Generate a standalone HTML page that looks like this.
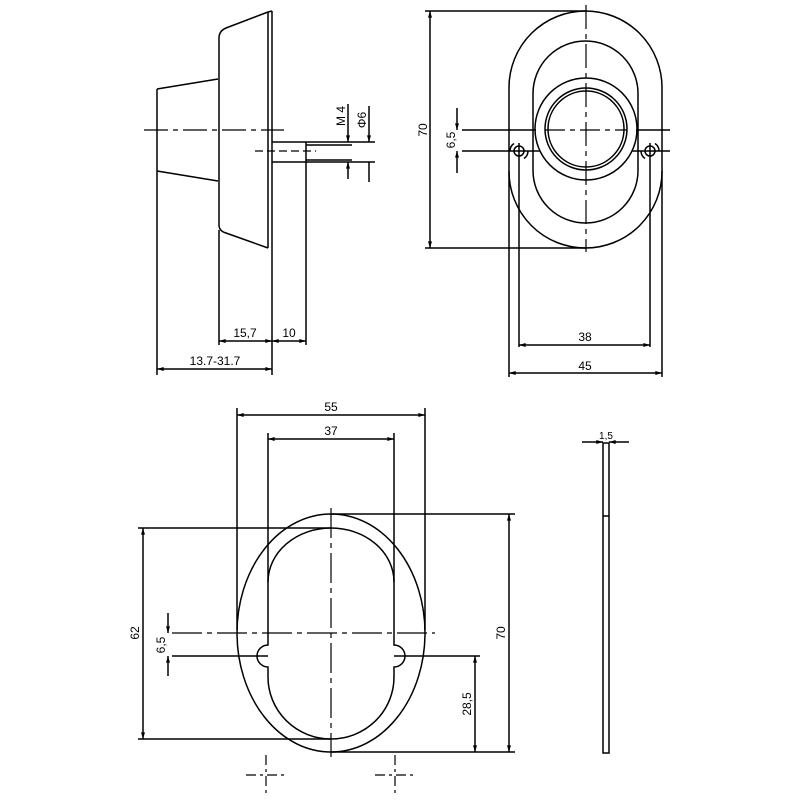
<!DOCTYPE html>
<html><head><meta charset="utf-8"><style>
html,body{margin:0;padding:0;background:#fff}
svg{display:block}
text{font-family:"Liberation Sans",sans-serif;font-size:12px;fill:#000}
</style></head><body>
<svg width="800" height="800" viewBox="0 0 800 800" xmlns="http://www.w3.org/2000/svg">
<defs>
<marker id="a" viewBox="0 0 10 6" refX="10" refY="3" markerWidth="9" markerHeight="4" orient="auto-start-reverse" markerUnits="userSpaceOnUse"><path d="M0,0L10,3L0,6z" fill="#000"/></marker>
</defs>
<g fill="none" stroke="#000" stroke-width="1.5">
<!-- SIDE VIEW -->
<path d="M272,11 L272,248 M268,12 L268,248 M268,12 L272,11"/>
<path d="M268,12 L226,28 Q219,31 219,38 L219,225 Q219,231 226,233 L268,248"/>
<path d="M157,89 L218,79 M157,171 L218,181"/>
<path d="M157,89 L157,375 M219,230 L219,345 M272,248 L272,375 M306,142 L306,345"/>
<path d="M272,142 L375,142 M272,162 L375,162 M306,145 L352,145 M306,160 L352,160"/>
<path d="M144,130 L284,130" stroke-dasharray="24,5,5,5" stroke-width="1.2"/>
<path d="M255,151 L316,151" stroke-dasharray="8,4" stroke-width="1.2"/>
<path d="M348,104 L348,142" marker-end="url(#a)"/>
<path d="M348,179 L348,162" marker-end="url(#a)"/>
<path d="M369,106 L369,142" marker-end="url(#a)"/>
<path d="M369,182 L369,162"/>
<path d="M219,341 L272,341" marker-start="url(#a)" marker-end="url(#a)"/>
<path d="M272,341 L306,341" marker-start="url(#a)" marker-end="url(#a)"/>
<path d="M157,369 L272,369" marker-start="url(#a)" marker-end="url(#a)"/>

<!-- FRONT VIEW -->
<path d="M509,87.5 A76.5,76.5 0 0 1 662,87.5 L662,171.5 A76.5,76.5 0 0 1 509,171.5 Z"/>
<path d="M533,93.5 A52.5,52.5 0 0 1 638,93.5 L638,170.5 A52.5,52.5 0 0 1 533,170.5 Z"/>
<circle cx="586" cy="129" r="51"/>
<circle cx="586" cy="129" r="41"/>
<circle cx="586" cy="129" r="38"/>
<path d="M462,130 L536,130 M636,130 L670,130 M462,151 L540,151 M632,151 L670,151"/>
<path d="M586,5 L586,252" stroke-dasharray="24,5,5,5" stroke-width="1.2"/>
<path d="M545,130 L627,130" stroke-dasharray="20,5,5,5" stroke-width="1.2"/>
<circle cx="519" cy="151" r="5"/><circle cx="650" cy="151" r="5"/>
<path d="M519,151 m-9,0 a9,9 0 0 1 4,-7.5 M519,151 m9,0 a9,9 0 0 1 -4,7.5 M650,151 m-9,0 a9,9 0 0 0 4,7.5 M650,151 m9,0 a9,9 0 0 0 -4,-7.5"/>
<path d="M519,143 L519,347 M650,143 L650,347 M509,171 L509,377 M662,171 L662,377"/>
<path d="M425,11 L586,11 M425,248 L586,248"/>
<path d="M430,11 L430,248" marker-start="url(#a)" marker-end="url(#a)"/>
<path d="M457,108 L457,130" marker-end="url(#a)"/>
<path d="M457,173 L457,151" marker-end="url(#a)"/>
<path d="M519,345 L650,345" marker-start="url(#a)" marker-end="url(#a)"/>
<path d="M509,373 L662,373" marker-start="url(#a)" marker-end="url(#a)"/>

<!-- BOTTOM VIEW -->
<ellipse cx="331" cy="633" rx="94" ry="119"/>
<path d="M268,582 A63,54 0 0 1 394,582 L394,645 A11,11 0 0 1 394,667 L394,677 A63,62 0 0 1 268,677 L268,667 A11,11 0 0 1 268,645 Z"/>
<path d="M237,408 L237,630 M425,408 L425,630 M268,433 L268,582 M394,433 L394,582"/>
<path d="M237,415 L425,415" marker-start="url(#a)" marker-end="url(#a)"/>
<path d="M268,439 L394,439" marker-start="url(#a)" marker-end="url(#a)"/>
<path d="M172,633 L435,633" stroke-dasharray="30,5,5,5" stroke-width="1.2"/>
<path d="M331,508 L331,757" stroke-dasharray="30,5,5,5" stroke-width="1.2"/>
<path d="M172,656 L268,656 M394,656 L480,656"/>
<path d="M138,528 L331,528 M138,739 L331,739 M331,514 L515,514 M331,752 L515,752"/>
<path d="M143,528 L143,739" marker-start="url(#a)" marker-end="url(#a)"/>
<path d="M509,514 L509,752" marker-start="url(#a)" marker-end="url(#a)"/>
<path d="M475,656 L475,752" marker-start="url(#a)" marker-end="url(#a)"/>
<path d="M168,613 L168,633" marker-end="url(#a)"/>
<path d="M168,676 L168,656" marker-end="url(#a)"/>
<path d="M266,755 L266,795 M246,775 L286,775 M395,755 L395,795 M375,775 L415,775" stroke-dasharray="10,4,3,4" stroke-width="1.2"/>

<!-- THIN PLATE -->
<rect x="603" y="443" width="6" height="310"/>
<path d="M603,516 L609,516"/>
<path d="M582,442 L603,442" marker-end="url(#a)"/>
<path d="M629,442 L609,442" marker-end="url(#a)"/>
</g>
<g>
<text x="245" y="337" text-anchor="middle">15,7</text>
<text x="289" y="337" text-anchor="middle">10</text>
<text x="215" y="365" text-anchor="middle">13.7-31.7</text>
<text transform="translate(345,116) rotate(-90)" text-anchor="middle">M 4</text>
<text transform="translate(366,120) rotate(-90)" text-anchor="middle">Φ6</text>
<text transform="translate(427,130) rotate(-90)" text-anchor="middle">70</text>
<text transform="translate(455,140) rotate(-90)" text-anchor="middle">6,5</text>
<text x="585" y="341" text-anchor="middle">38</text>
<text x="585" y="370" text-anchor="middle">45</text>
<text x="331" y="411" text-anchor="middle">55</text>
<text x="331" y="435" text-anchor="middle">37</text>
<text transform="translate(139,633) rotate(-90)" text-anchor="middle">62</text>
<text transform="translate(165,645) rotate(-90)" text-anchor="middle">6,5</text>
<text transform="translate(505,633) rotate(-90)" text-anchor="middle">70</text>
<text transform="translate(471,704) rotate(-90)" text-anchor="middle">28,5</text>
<text x="606" y="439" text-anchor="middle" style="font-size:10px">1,5</text>
</g>
</svg>
</body></html>
